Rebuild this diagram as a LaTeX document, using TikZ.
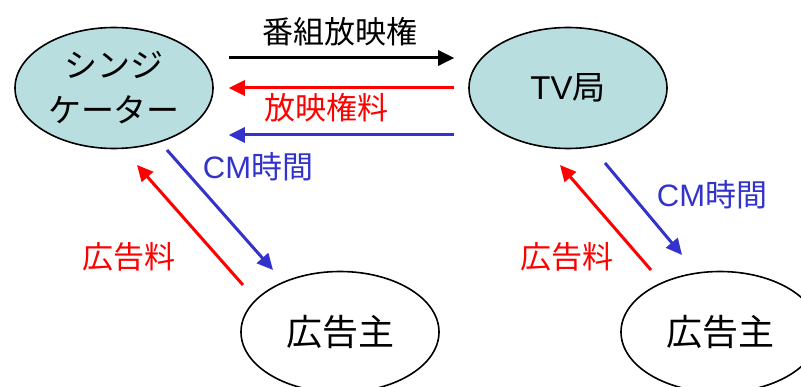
\documentclass[tikz,border=0pt]{standalone}
\usepackage{fontspec}
\setmainfont{Noto Sans CJK JP}
\newfontfamily\latinfont{Liberation Sans}
\usetikzlibrary{arrows.meta,shapes,positioning}
\definecolor{nodecyan}{HTML}{B8DEE0}
\definecolor{cmblue}{HTML}{3333CC}
\tikzset{
  basic/.style  = {draw, ellipse, line width=1.6pt, inner sep=0pt, align=center,
                   minimum width=198pt, minimum height=121pt},
  player/.style = {basic, fill=nodecyan, font=\fontsize{33}{45}\selectfont},
  sponsor/.style = {basic, fill=white, font=\fontsize{36}{40}\selectfont},
  flow/.style   = {line width=3pt, -{Triangle[length=16pt,width=15pt]}},
  lbl/.style    = {font=\fontsize{31}{34}\selectfont, inner sep=0pt}
}

\begin{document}
\begin{tikzpicture}[x=1pt, y=-1pt]
\useasboundingbox (0,0) rectangle (801,387);

% the four parties
\node[player] (synd) at (114,88) {シンジ\\ケーター};
\node[player] (tv) at (568,88) {{\latinfont TV}局};
\node[sponsor] (ad1) at (340,332) {広告主};
\node[sponsor] (ad2) at (720,332) {広告主};

% between syndicator and TV station
\draw[flow] ([xshift=15pt,yshift=30pt]synd.east) -- ([xshift=-14pt,yshift=30pt]tv.west);
\draw[flow, red] ([xshift=-14pt]tv.west) -- ([xshift=15pt]synd.east);
\draw[flow, cmblue] ([xshift=-14pt,yshift=-47pt]tv.west) -- ([xshift=15pt,yshift=-47pt]synd.east);

% each of them with its sponsor
\draw[flow, cmblue] ([xshift=53pt,yshift=-62pt]synd.center) -- ([xshift=-67pt,yshift=62pt]ad1.center);
\draw[flow, red] ([xshift=-97pt,yshift=47pt]ad1.center) -- ([xshift=23pt,yshift=-77pt]synd.center);
\draw[flow, cmblue] ([xshift=37pt,yshift=-75pt]tv.center) -- ([xshift=-38pt,yshift=77pt]ad2.center);
\draw[flow, red] ([xshift=-69pt,yshift=62pt]ad2.center) -- ([xshift=-8pt,yshift=-77pt]tv.center);

% labels
\node[lbl] (rights) at (340,32) {番組放映権};
\node[lbl, red] (fee) at (326,108) {放映権料};
\node[lbl, cmblue] (cm1) at (258,167) {{\latinfont CM}時間};
\node[lbl, red] (adfee1) at (129,257) {広告料};
\node[lbl, cmblue] (cm2) at (712,195) {{\latinfont CM}時間};
\node[lbl, red] (adfee2) at (567,257) {広告料};
\end{tikzpicture}
\end{document}
